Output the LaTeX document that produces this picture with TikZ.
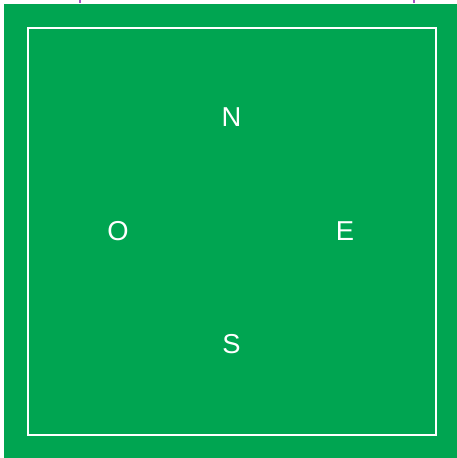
\documentclass[tikz,border=0pt]{standalone}
\usepackage{fontspec}
\setmainfont{Liberation Sans}
\definecolor{field}{RGB}{0,165,81}
\definecolor{tick}{RGB}{165,85,195}
\tikzset{
  dir/.style={text=white,font=\fontsize{20.5pt}{24pt}\selectfont,inner sep=0pt},
  frame/.style={draw=white,line width=1.6pt},
}
\begin{document}
\begin{tikzpicture}[x=0.75pt,y=-0.75pt]
  \useasboundingbox (0,0) rectangle (457,458);
  % pitch
  \fill[field] (4,4) rectangle (457,458);
  \draw[frame] (28,28) rectangle (436,435);
  \draw[tick,line width=1pt] (80,0) -- (80,3);
  \draw[tick,line width=1pt] (414,0) -- (414,3);
  % compass letters
  \node[dir] (north) at (231.5,117) {N};
  \node[dir] (west) at (118,231) {O};
  \node[dir] (east) at (345,231) {E};
  \node[dir] (south) at (231.5,344.5) {S};
\end{tikzpicture}
\end{document}
